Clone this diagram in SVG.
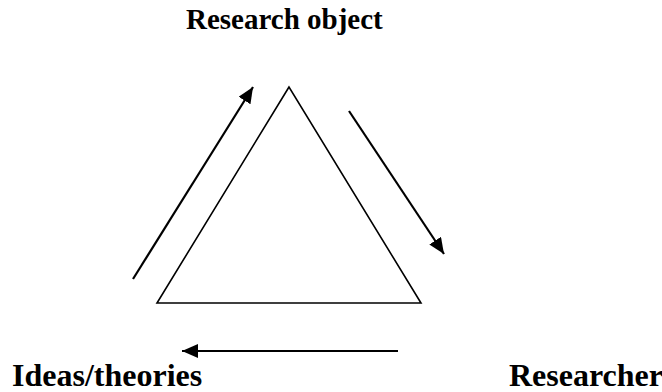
<svg xmlns="http://www.w3.org/2000/svg" width="662" height="392" viewBox="0 0 662 392">
<style>
.lbl{font-family:"Liberation Serif","Times New Roman",serif;font-weight:bold;fill:#000}
.conn{stroke:#000;stroke-width:2.2;fill:none}
</style>
<defs>
<marker id="ah" markerUnits="userSpaceOnUse" markerWidth="18" markerHeight="14" refX="16" refY="7" orient="auto">
<path d="M0,0 L16,7 L0,14 Z" fill="#000"/>
</marker>
</defs>
<rect width="662" height="392" fill="#fff"/>
<g id="triangle">
<polygon points="289,87 157,303 421,303" fill="none" stroke="#000" stroke-width="1.6"/>
</g>
<g id="node-research-object">
<text class="lbl" x="186" y="29" font-size="29">Research object</text>
</g>
<g id="node-ideas-theories">
<text class="lbl" x="12" y="386" font-size="32">Ideas/theories</text>
</g>
<g id="node-researcher">
<text class="lbl" x="509" y="386" font-size="32">Researcher</text>
</g>
<g id="connectors">
<line class="conn" x1="133" y1="279" x2="253" y2="87" marker-end="url(#ah)"/>
<line class="conn" x1="349" y1="111" x2="444" y2="254" marker-end="url(#ah)"/>
<line class="conn" x1="398" y1="351" x2="182" y2="351" marker-end="url(#ah)"/>
</g>
</svg>
